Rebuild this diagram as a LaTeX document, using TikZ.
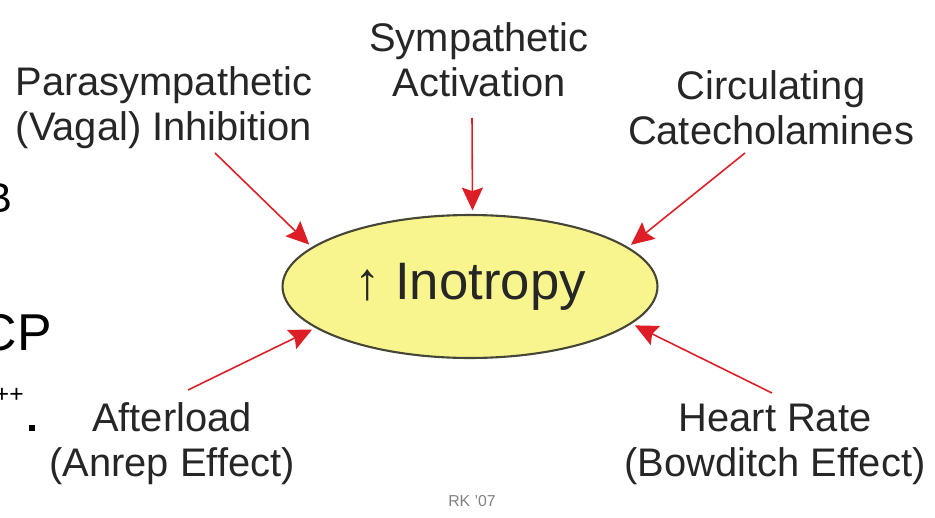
\documentclass[tikz,border=0pt]{standalone}
\usepackage{fontspec}
\setmainfont{Liberation Sans}
\usepackage{tikz}
\usetikzlibrary{shapes.geometric,arrows.meta}
\definecolor{inkgray}{RGB}{38,38,38}
\definecolor{pinred}{RGB}{222,30,38}
\definecolor{lemon}{RGB}{249,245,142}
\definecolor{rimgray}{RGB}{70,70,55}

\begin{document}
\begin{tikzpicture}[x=0.02cm,y=-0.02cm]
\tikzstyle{lbl}=[font=\fontsize{22.7}{25.5}\selectfont,text=inkgray,align=center,inner sep=0pt];
\tikzstyle{feed}=[draw=pinred,line width=0.9pt,shorten >=2pt,-{Stealth[length=13pt,width=12pt,inset=2pt]}];
\tikzstyle{frag}=[text=black,inner sep=0pt,anchor=base east];

\useasboundingbox (0,0) rectangle (935,517);
\clip (0,0) rectangle (935,517);

% centre
\node[ellipse,draw=rimgray,line width=1.2pt,fill=lemon,minimum width=7.5cm,minimum height=2.86cm,
  inner sep=0pt,text=inkgray,font=\fontsize{30}{34}\selectfont] (ino) at (470,286.5) {↑ Inotropy};

% inputs
\node[lbl] (symp) at (479,60) {Sympathetic\\Activation};
\node[lbl] (para) at (164,108) {Parasympathetic\\(Vagal) Inhibition};
\node[lbl] (circ) at (771,108) {Circulating\\Catecholamines};
\node[lbl] (after) at (172,444) {Afterload\\(Anrep Effect)};
\node[lbl] (rate) at (775,444) {Heart Rate\\(Bowditch Effect)};
\node[text=gray,font=\fontsize{9}{10}\selectfont] (sig) at (472,501) {RK '07};

\coordinate (ptail) at (215,153);
\coordinate (stail) at (472,118);
\coordinate (ctail) at (745,153);
\coordinate (atail) at (188,390);
\coordinate (htail) at (772,393);

\draw[feed] (ptail) -- (ino.166);
\draw[feed] (stail) -- (ino.88);
\draw[feed] (ctail) -- (ino.14);
\draw[feed] (atail) -- (ino.195);
\draw[feed] (htail) -- (ino.347);

% bits of the slide underneath
\node[frag,font=\fontsize{23.8}{26}\selectfont] (fragb) at (13,212) {B};
\node[frag,font=\fontsize{29.5}{32}\selectfont] (fragcp) at (52,350) {CP};
\node[frag,font=\fontsize{14}{16}\selectfont] (fragpp) at (24,402) {++};
\fill (29,425) rectangle (35,431);
\end{tikzpicture}
\end{document}
